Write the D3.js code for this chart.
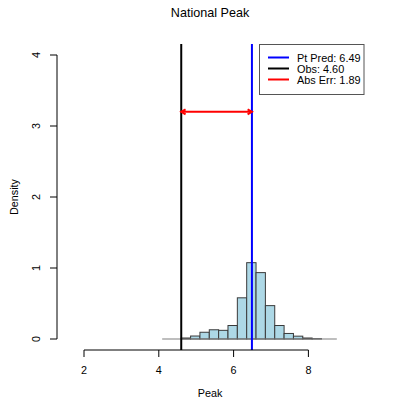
<!DOCTYPE html>
<html>
<head>
<meta charset="utf-8">
<script src="https://cdn.jsdelivr.net/npm/d3@7"></script>
<style>
  html, body { margin: 0; padding: 0; background: #fff; }
  text { font-family: "Liberation Sans", Arial, Helvetica, sans-serif; fill: #000; }
</style>
</head>
<body>
<div id="chart"></div>
<script>
// ---- data ----
const binStart = 4.6;
const binWidth = 0.25;
const densities = [0.014, 0.042, 0.095, 0.13, 0.122, 0.19, 0.58, 1.075, 0.935, 0.47, 0.19, 0.078, 0.04, 0.014, 0.004];
const xTicks = [2, 4, 6, 8];
const yTicks = [0, 1, 2, 3, 4];
const ptPred = 6.49;
const obs = 4.60;
const absErr = 1.89;
const arrowY = 3.2;
const baseLineRange = [4.09, 8.76];
const legendLabels = ["Pt Pred: 6.49", "Obs: 4.60", "Abs Err: 1.89"];
const legendColors = ["#0000ff", "#000000", "#ff0000"];
const title = "National Peak";
const xLabel = "Peak";
const yLabel = "Density";

// ---- layout ----
const W = 407, H = 407;
const plot = { left: 57, right: 364, top: 44, bottom: 350 };

const x = d3.scaleLinear().domain([2, 8]).range([84, 308.4]);
const y = d3.scaleLinear().domain([0, 4]).range([339, 55]);

const svg = d3.select("#chart").append("svg")
  .attr("width", W).attr("height", H);

svg.append("rect").attr("width", W).attr("height", H).attr("fill", "#fff");

// title
svg.append("text").attr("x", 210).attr("y", 13)
  .attr("text-anchor", "middle").attr("dominant-baseline", "central")
  .style("font-size", "12.6px").text(title);

// clip for plot region
svg.append("clipPath").attr("id", "clip").append("rect")
  .attr("x", plot.left).attr("y", plot.top)
  .attr("width", plot.right - plot.left).attr("height", plot.bottom - plot.top);

const g = svg.append("g").attr("clip-path", "url(#clip)");

// bars
const bins = densities.map((d, i) => ({ x0: binStart + i * binWidth, x1: binStart + (i + 1) * binWidth, d }));
g.selectAll("rect.bar").data(bins).enter().append("rect")
  .attr("class", "bar")
  .attr("x", b => x(b.x0))
  .attr("width", b => x(b.x1) - x(b.x0))
  .attr("y", b => y(b.d))
  .attr("height", b => y(0) - y(b.d))
  .attr("fill", "#add8e6")
  .attr("stroke", "#3a3a3a")
  .attr("stroke-width", 1);

// grey baseline
g.append("line")
  .attr("x1", x(baseLineRange[0])).attr("x2", x(baseLineRange[1]))
  .attr("y1", y(0)).attr("y2", y(0))
  .attr("stroke", "#7f7f7f").attr("stroke-width", 1.2);

// vertical lines
g.append("line").attr("x1", x(obs)).attr("x2", x(obs))
  .attr("y1", plot.top).attr("y2", plot.bottom)
  .attr("stroke", "#000").attr("stroke-width", 2);
g.append("line").attr("x1", x(ptPred)).attr("x2", x(ptPred))
  .attr("y1", plot.top).attr("y2", plot.bottom)
  .attr("stroke", "#0000ff").attr("stroke-width", 2);

// red double arrow
const ay = y(arrowY);
const ax0 = x(obs), ax1 = x(obs + absErr);
g.append("line").attr("x1", ax0).attr("x2", ax1).attr("y1", ay).attr("y2", ay)
  .attr("stroke", "#ff0000").attr("stroke-width", 2);
const ah = 5, ang = Math.PI / 6;
const heads = [
  [ax0, ay, 1], [ax1, ay, -1]
];
heads.forEach(([hx, hy, dir]) => {
  g.append("path")
    .attr("d", `M${hx + dir * ah * Math.cos(ang)},${hy - ah * Math.sin(ang)} L${hx},${hy} L${hx + dir * ah * Math.cos(ang)},${hy + ah * Math.sin(ang)}`)
    .attr("fill", "none").attr("stroke", "#ff0000").attr("stroke-width", 2);
});

// x axis
const xAxisY = plot.bottom;
svg.append("line").attr("x1", x(xTicks[0])).attr("x2", x(xTicks[xTicks.length - 1]))
  .attr("y1", xAxisY).attr("y2", xAxisY).attr("stroke", "#000").attr("stroke-width", 1);
svg.selectAll("line.xt").data(xTicks).enter().append("line")
  .attr("x1", d => x(d)).attr("x2", d => x(d))
  .attr("y1", xAxisY).attr("y2", xAxisY + 7).attr("stroke", "#000");
svg.selectAll("text.xl").data(xTicks).enter().append("text")
  .attr("x", d => x(d)).attr("y", 370)
  .attr("text-anchor", "middle").attr("dominant-baseline", "central")
  .style("font-size", "10.8px").text(d => d);
svg.append("text").attr("x", 210).attr("y", 393)
  .attr("text-anchor", "middle").attr("dominant-baseline", "central")
  .style("font-size", "10.8px").text(xLabel);

// y axis
const yAxisX = plot.left;
svg.append("line").attr("x1", yAxisX).attr("x2", yAxisX)
  .attr("y1", y(yTicks[0])).attr("y2", y(yTicks[yTicks.length - 1]))
  .attr("stroke", "#000");
svg.selectAll("line.yt").data(yTicks).enter().append("line")
  .attr("x1", yAxisX - 7).attr("x2", yAxisX)
  .attr("y1", d => y(d)).attr("y2", d => y(d)).attr("stroke", "#000");
svg.selectAll("text.yl").data(yTicks).enter().append("text")
  .attr("transform", d => `translate(35.5,${y(d)}) rotate(-90)`)
  .attr("text-anchor", "middle").attr("dominant-baseline", "central")
  .style("font-size", "10.8px").text(d => d);
svg.append("text").attr("transform", `translate(13.5,197) rotate(-90)`)
  .attr("text-anchor", "middle").attr("dominant-baseline", "central")
  .style("font-size", "10.8px").text(yLabel);

// legend
const lg = svg.append("g");
lg.append("rect").attr("x", 259.5).attr("y", 44.5).attr("width", 104.5).attr("height", 50)
  .attr("fill", "#fff").attr("stroke", "#555").attr("stroke-width", 1);
legendLabels.forEach((t, i) => {
  const ly = 57.5 + i * 11;
  lg.append("line").attr("x1", 268).attr("x2", 289).attr("y1", ly).attr("y2", ly)
    .attr("stroke", legendColors[i]).attr("stroke-width", 2);
  lg.append("text").attr("x", 297).attr("y", ly)
    .attr("dominant-baseline", "central")
    .style("font-size", "10.9px").text(t);
});
</script>
</body>
</html>
